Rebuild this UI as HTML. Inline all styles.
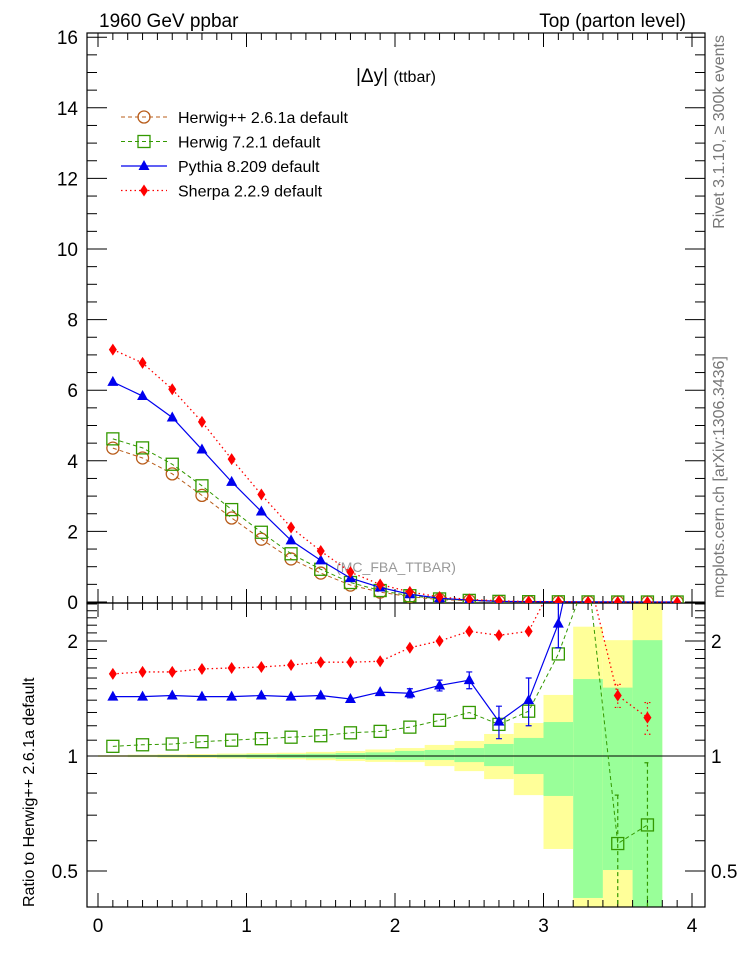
<!DOCTYPE html>
<html><head><meta charset="utf-8"><style>
body{margin:0;background:#fff}
svg{display:block;font-family:"Liberation Sans",Arial,sans-serif}
</style></head><body>
<svg id="c" width="746" height="972" xmlns="http://www.w3.org/2000/svg">
<defs>
<clipPath id="cm"><rect x="87" y="33" width="618" height="570"/></clipPath>
<clipPath id="cr"><rect x="87" y="603" width="618" height="304"/></clipPath>
</defs>
<text x="99" y="27" font-size="19">1960 GeV ppbar</text>
<text x="686" y="27" font-size="19" text-anchor="end">Top (parton level)</text>
<text x="396" y="82" font-size="19" text-anchor="middle">|Δy| <tspan font-size="16">(ttbar)</tspan></text>
<text transform="translate(724,35) rotate(-90)" font-size="16" fill="#777" text-anchor="end">Rivet 3.1.10, ≥ 300k events</text>
<text transform="translate(724,598) rotate(-90)" font-size="16" fill="#777">mcplots.cern.ch [arXiv:1306.3436]</text>
<text transform="translate(34,907) rotate(-90)" font-size="16">Ratio to Herwig++ 2.6.1a default</text>
<text x="396" y="572" font-size="14" fill="#999" text-anchor="middle">(MC_FBA_TTBAR)</text>
<g id="bands" clip-path="url(#cr)"></g>
<g id="axes"></g>
<g id="mainSeries" clip-path="url(#cm)"></g>
<g id="ratioSeries" clip-path="url(#cr)"></g>
<g id="legend"></g>
</svg>
<script>
const xCenters=[0.1,0.3,0.5,0.7,0.9,1.1,1.3,1.5,1.7,1.9,2.1,2.3,2.5,2.7,2.9,3.1,3.3,3.5,3.7,3.9];
const herwigpp=[4.36,4.08,3.63,3.02,2.38,1.78,1.22,0.82,0.48,0.28,0.15,0.07,0.035,0.015,0.007,0.003,0.001,0.0005,0.0003,0.0001];
const ratioH7=[1.06,1.07,1.075,1.09,1.10,1.11,1.12,1.13,1.15,1.16,1.19,1.24,1.30,1.21,1.31,1.85,3.0,0.59,0.66,null];
const ratioPy=[1.43,1.43,1.44,1.43,1.43,1.44,1.43,1.44,1.41,1.47,1.46,1.53,1.58,1.23,1.40,2.22,5,6,6,null];
const ratioSh=[1.64,1.66,1.66,1.69,1.70,1.71,1.73,1.76,1.76,1.77,1.92,2.0,2.12,2.07,2.12,3.0,3.0,1.44,1.26,null];
const errPy=[0,0,0,0,0,0,0,0,0,0,0.04,0.05,0.08,0.12,0.2,0.3,0,0,0,0];
const errH7=[0,0,0,0,0,0,0,0,0,0,0,0,0,0,0,0,0,0.2,0.3,0];
const errSh=[0,0,0,0,0,0,0,0,0,0,0,0,0,0,0,0,0,0.1,0.12,0];
const yelHi=[1.005,1.008,1.01,1.012,1.015,1.018,1.02,1.025,1.03,1.04,1.049,1.069,1.095,1.142,1.22,1.445,2.18,2.01,3.0,1];
const yelLo=[0.995,0.993,0.99,0.988,0.985,0.982,0.98,0.975,0.97,0.965,0.964,0.941,0.913,0.87,0.79,0.571,0.35,0.3,0.3,1];
const grnHi=[1.003,1.004,1.005,1.006,1.008,1.01,1.012,1.014,1.018,1.022,1.031,1.037,1.049,1.075,1.115,1.227,1.59,1.51,2.01,1];
const grnLo=[0.997,0.996,0.995,0.994,0.992,0.99,0.988,0.986,0.982,0.978,0.976,0.976,0.964,0.941,0.897,0.786,0.425,0.503,0.3,1];
const xTicks=[0,1,2,3,4];
const yTicks=[0,2,4,6,8,10,12,14,16];
const rTicks=[0.5,1,2];
const binW=0.2;

const NS="http://www.w3.org/2000/svg";
const X=v=>98+148.5*v;
const Y=v=>602-35.3*v;
const R=v=>756-115*Math.log2(v);
function mk(tag,attrs,parent){const e=document.createElementNS(NS,tag);for(const k in attrs)e.setAttribute(k,attrs[k]);parent.appendChild(e);return e;}
const axes=document.getElementById('axes');
const bands=document.getElementById('bands');
const mainG=document.getElementById('mainSeries');
const ratG=document.getElementById('ratioSeries');
const leg=document.getElementById('legend');

xCenters.forEach((c,i)=>{
  const x0=X(c-binW/2),w=X(c+binW/2)-x0;
  let r=mk('rect',{x:x0,y:R(yelHi[i]),width:w,height:R(yelLo[i])-R(yelHi[i]),fill:'#ffff99'},bands);
  
  
  r=mk('rect',{x:x0,y:R(grnHi[i]),width:w,height:R(grnLo[i])-R(grnHi[i]),fill:'#99ff99'},bands);
  
  
});
let unity=mk('line',{x1:87,x2:705,y1:R(1),y2:R(1),stroke:'#000','stroke-width':1},axes);



let f1=mk('rect',{x:87,y:33,width:618,height:570,fill:'none',stroke:'#000','stroke-width':1.2},axes);


let f2=mk('rect',{x:87,y:603,width:618,height:304,fill:'none',stroke:'#000','stroke-width':1.2},axes);



for(let k=0;k<=40;k++){const v=k/10;const x=X(v);if(x>705)break;const maj=k%10==0;const L=maj?14:7;
  [[33,1],[603,-1],[603,1],[907,-1]].forEach(([y,d])=>mk('line',{x1:x,x2:x,y1:y,y2:y+d*L,stroke:'#000'},axes));}
xTicks.forEach(v=>{const t=mk('text',{x:X(v),y:932,'font-size':19,'text-anchor':'middle'},axes);t.textContent=v;
  
  });
for(let k=0;k<=32;k++){const v=k/2;const y=Y(v);if(y<33)break;const maj=k%4==0;const L=maj?20:10;
  mk('line',{x1:87,x2:87+L,y1:y,y2:y,stroke:'#000'},axes);mk('line',{x1:705,x2:705-L,y1:y,y2:y,stroke:'#000'},axes);}
yTicks.forEach(v=>{const t=mk('text',{x:78,y:Y(v)+7,'font-size':19,'text-anchor':'end'},axes);t.textContent=v;
  
  });
const rMinor=[0.4,0.5,0.6,0.7,0.8,0.9,1,1.1,1.2,1.3,1.4,1.5,1.6,1.7,1.8,1.9,2,2.1,2.2,2.3,2.4,2.5];
rMinor.forEach(v=>{const y=R(v);if(y<603||y>907)return;const L=rTicks.includes(v)?20:10;
  mk('line',{x1:87,x2:87+L,y1:y,y2:y,stroke:'#000'},axes);mk('line',{x1:705,x2:705-L,y1:y,y2:y,stroke:'#000'},axes);});
rTicks.forEach(v=>{let t=mk('text',{x:78,y:R(v)+7,'font-size':19,'text-anchor':'end'},axes);t.textContent=v;
  
  
  t=mk('text',{x:711,y:R(v)+7,'font-size':19},axes);t.textContent=v;
  
  });

function marker(type,x,y,col,parent){
  let e;
  if(type=='circle')e=mk('circle',{cx:x,cy:y,r:6,fill:'none',stroke:col,'stroke-width':1.3},parent);
  else if(type=='square')e=mk('rect',{x:x-6,y:y-6,width:12,height:12,fill:'none',stroke:col,'stroke-width':1.3},parent);
  else if(type=='tri')e=mk('polygon',{points:`${x},${y-6} ${x-5.5},${y+4} ${x+5.5},${y+4}`,fill:col},parent);
  else e=mk('polygon',{points:`${x},${y-6} ${x-4},${y} ${x},${y+6} ${x+4},${y}`,fill:col},parent);
  return e;
}
const series=[
 {name:'herwigpp',ratio:xCenters.map(()=>1),err:null,col:'#b85c1a',dash:'4,3',m:'circle',w:1,label:'Herwig++ 2.6.1a default'},
 {name:'herwig7',ratio:ratioH7,err:errH7,col:'#339900',dash:'4,3',m:'square',w:1,label:'Herwig 7.2.1 default'},
 {name:'pythia8',ratio:ratioPy,err:errPy,col:'#0000ee',dash:'',m:'tri',w:1.2,label:'Pythia 8.209 default'},
 {name:'sherpa',ratio:ratioSh,err:errSh,col:'#ff0000',dash:'1.5,3',m:'diamond',w:1.3,label:'Sherpa 2.2.9 default'}];
series.forEach((s,si)=>{
  const mv=xCenters.map((c,i)=>herwigpp[i]*(s.ratio[i]==null?1:s.ratio[i]));
  const pl=mk('polyline',{points:xCenters.map((c,i)=>X(c)+','+Y(mv[i])).join(' '),fill:'none',stroke:s.col,'stroke-width':s.w,'stroke-dasharray':s.dash},mainG);
  
  
  xCenters.forEach((c,i)=>{const m=marker(s.m,X(c),Y(mv[i]),s.col,mainG);
    
    });
  if(si>0){
    const pts=[];xCenters.forEach((c,i)=>{if(s.ratio[i]!=null)pts.push(X(c)+','+R(s.ratio[i]));});
    const rl=mk('polyline',{points:pts.join(' '),fill:'none',stroke:s.col,'stroke-width':s.w,'stroke-dasharray':s.dash},ratG);
    
    
    xCenters.forEach((c,i)=>{const r=s.ratio[i];if(r==null)return;
      if(s.err[i]>0){const eb=mk('path',{d:`M${X(c)},${R(r+s.err[i])}V${R(Math.max(r-s.err[i],0.05))}M${X(c)-3},${R(r+s.err[i])}h6M${X(c)-3},${R(Math.max(r-s.err[i],0.05))}h6`,stroke:s.col,'stroke-width':1.2,'stroke-dasharray':s.dash,fill:'none'},ratG);
        
        }
      const m=marker(s.m,X(c),R(r),s.col,ratG);
      
      });
  }
  const ly=117+si*24.5;
  const ll=mk('line',{x1:121,x2:167,y1:ly,y2:ly,stroke:s.col,'stroke-width':s.w,'stroke-dasharray':s.dash},leg);
  
  
  const lm=marker(s.m,144,ly,s.col,leg);
  
  
  const lt=mk('text',{x:178,y:ly+6,'font-size':16},leg);lt.textContent=s.label;
  
  
});
</script>
</body></html>
